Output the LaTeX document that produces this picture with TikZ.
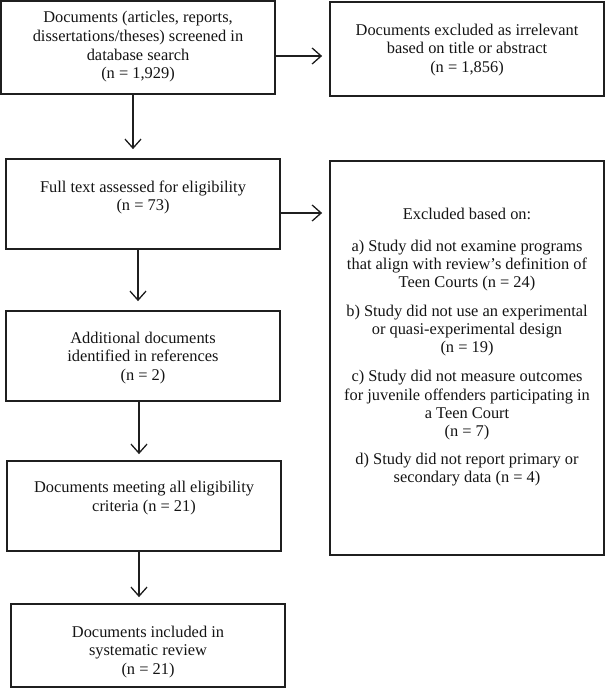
\documentclass[tikz,border=0pt]{standalone}
\usepackage{fontspec}
\setmainfont{Liberation Serif}
\usetikzlibrary{arrows.meta}
\begin{document}
\begin{tikzpicture}[x=1pt,y=-1pt,
 box/.style={draw=black!88, line width=1.8pt, minimum width=274pt, inner sep=0pt, anchor=center},
 txt/.style={align=center, font=\fontsize{16.4}{18.7}\selectfont, inner sep=0pt, text=black!92},
 arr/.style={draw=black!88, line width=1.3pt, -{Straight Barb[length=9pt,width=16pt,line width=1.3pt]}}]
\useasboundingbox (0,0) rectangle (605,688);
% boxes
\node[box, minimum height=93pt] (b1) at (138,47.5) {};
\node[box, minimum height=94pt] (b2) at (467,49) {};
\node[box, minimum height=90pt] (b3) at (143,204) {};
\node[box, minimum height=394pt] (b4) at (467,358) {};
\node[box, minimum height=90pt] (b5) at (143,356) {};
\node[box, minimum height=90pt] (b6) at (144,506) {};
\node[box, minimum height=83pt] (b7) at (148,645.5) {};
% texts
\node[txt] (t1) at (138,47) {Documents (articles, reports,\\dissertations/theses) screened in\\database search\\(n = 1,929)};
\node[txt] (t2) at (467,50) {Documents excluded as irrelevant\\based on title or abstract\\(n = 1,856)};
\node[txt] (t3) at (143,197.5) {Full text assessed for eligibility\\(n = 73)};
\node[txt, font=\fontsize{16.4}{18.2}\selectfont] (t4) at (467,347) {Excluded based on:\\[13.8pt]
a) Study did not examine programs\\that align with review’s definition of\\Teen Courts (n = 24)\\[10.8pt]
b) Study did not use an experimental\\or quasi-experimental design\\(n = 19)\\[10.8pt]
c) Study did not measure outcomes\\for juvenile offenders participating in\\a Teen Court\\(n = 7)\\[9.8pt]
d) Study did not report primary or\\secondary data (n = 4)};
\node[txt] (t5) at (143,358) {Additional documents\\identified in references\\(n = 2)};
\node[txt] (t6) at (144,498) {Documents meeting all eligibility\\criteria (n = 21)};
\node[txt] (t7) at (148,652) {Documents included in\\systematic review\\(n = 21)};
% connectors
\draw[arr, shorten >=9pt] ([xshift=-5pt]b1.south) -- ([xshift=-5pt]b1.south |- b3.north);
\draw[arr, shorten >=9pt] ([xshift=-5pt]b3.south) -- ([xshift=-5pt]b3.south |- b5.north);
\draw[arr, shorten >=6pt] ([xshift=-4pt]b5.south) -- ([xshift=-4pt]b5.south |- b6.north);
\draw[arr, shorten >=6pt] ([xshift=-5pt]b6.south) -- ([xshift=-5pt]b6.south |- b7.north);
\draw[arr, shorten >=7pt] ([yshift=-8.5pt]b1.east) -- ([yshift=-8.5pt]b1.east -| b2.west);
\draw[arr, shorten >=7pt] ([yshift=-9pt]b3.east) -- ([yshift=-9pt]b3.east -| b4.west);
\end{tikzpicture}
\end{document}
